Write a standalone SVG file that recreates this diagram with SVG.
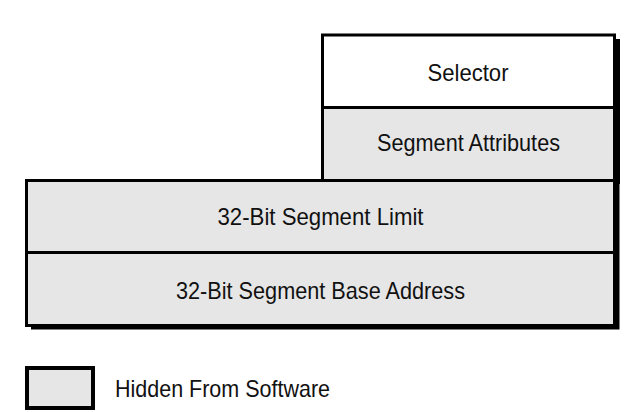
<svg xmlns="http://www.w3.org/2000/svg" width="631" height="412" viewBox="0 0 631 412">
  <style>
    .box { stroke: #000; stroke-width: 3; }
    .gray { fill: #e6e6e6; }
    .white { fill: #ffffff; }
    .shadow { fill: #000; }
    .div { stroke: #000; stroke-width: 3; fill: none; }
    .lbl { font-family: "Liberation Sans", Arial, sans-serif; font-size: 24px; fill: #111; text-anchor: middle; }
    .leg { font-family: "Liberation Sans", Arial, sans-serif; font-size: 24px; fill: #111; }
  </style>
  <rect width="631" height="412" fill="#fff"/>
  <g id="upper-block">
    <rect class="shadow" x="327" y="39" width="293" height="145"/>
    <rect class="box white" x="322.5" y="35" width="292" height="145.5"/>
    <rect class="gray" x="324" y="109" width="289" height="70"/>
    <line class="div" x1="322.5" y1="107.5" x2="614.5" y2="107.5"/>
    <g id="selector">
      <text class="lbl" x="468" y="81" textLength="81" lengthAdjust="spacingAndGlyphs">Selector</text>
    </g>
    <g id="segment-attributes">
      <text class="lbl" x="468.5" y="151" textLength="183" lengthAdjust="spacingAndGlyphs">Segment Attributes</text>
    </g>
  </g>
  <g id="lower-block">
    <rect class="shadow" x="31" y="184" width="588.5" height="145.5"/>
    <rect class="box gray" x="26.5" y="180.5" width="588" height="145"/>
    <line class="div" x1="26.5" y1="252.5" x2="614.5" y2="252.5"/>
    <g id="segment-limit">
      <text class="lbl" x="320.5" y="225" textLength="206" lengthAdjust="spacingAndGlyphs">32-Bit Segment Limit</text>
    </g>
    <g id="segment-base">
      <text class="lbl" x="320.5" y="299" textLength="289" lengthAdjust="spacingAndGlyphs">32-Bit Segment Base Address</text>
    </g>
  </g>
  <g id="legend">
    <rect class="gray" x="27" y="368" width="66" height="40" stroke="#000" stroke-width="4"/>
    <text class="leg" x="115" y="397" textLength="215" lengthAdjust="spacingAndGlyphs">Hidden From Software</text>
  </g>
  <g id="connectors"></g>
</svg>
